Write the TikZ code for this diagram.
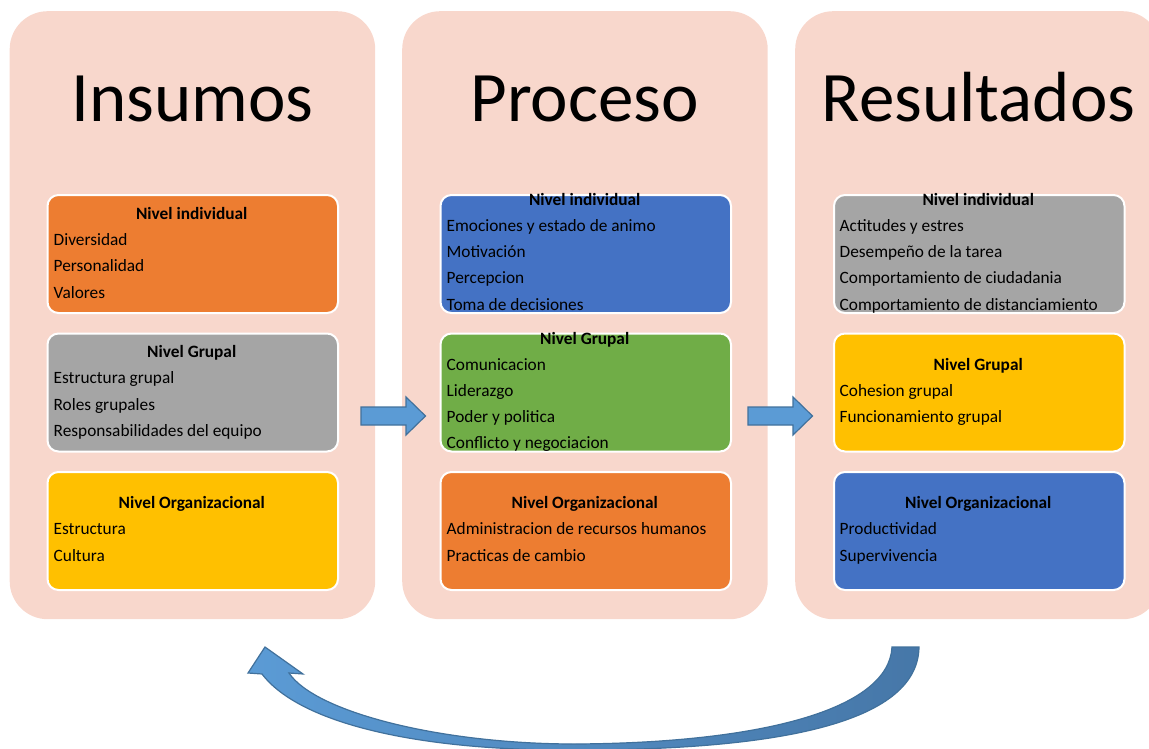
\documentclass[tikz,border=0pt]{standalone}
\usepackage{fontspec}
\setmainfont{Carlito}
\definecolor{rosa}{HTML}{F8D7CC}
\definecolor{naranja}{HTML}{ED7D31}
\definecolor{gris}{HTML}{A5A5A5}
\definecolor{amarillo}{HTML}{FFC000}
\definecolor{azul}{HTML}{4472C4}
\definecolor{verde}{HTML}{70AD47}
\definecolor{azulflecha}{HTML}{5B9BD5}
\definecolor{azulcurva}{HTML}{4677A8}
\definecolor{bordeflecha}{HTML}{41719C}
\tikzset{
	columna/.style={fill=rosa, rounded corners=38pt, minimum width=365.5pt, minimum height=608pt, anchor=north west, inner sep=0pt},
	caja/.style={draw=white, line width=2pt, rounded corners=11pt, minimum width=290.5pt, minimum height=118pt, anchor=north west, inner sep=0pt},
	titulo/.style={font=\fontsize{71}{85}\selectfont, anchor=base, inner sep=0pt},
	encab/.style={font=\fontsize{17.3}{20}\selectfont\bfseries, anchor=base, inner sep=0pt},
	item/.style={font=\fontsize{17.3}{20}\selectfont, anchor=base west, inner sep=0pt},
	flecha/.style={fill=azulflecha, draw=bordeflecha, line width=1.2pt},
	curva/.style={left color=azulflecha, right color=azulcurva, draw=bordeflecha, line width=1.2pt}
}

\begin{document}
\begin{tikzpicture}[x=1pt, y=-1pt]
	\clip (0,0) rectangle (1149,749);

	% columnas
	\node[columna] (col1) at (9.5,11) {};
	\node[columna] (col2) at (402,11) {};
	\node[columna] (col3) at (795,11) {};

	\node[titulo] (tit1) at (192.25,122) {Insumos};
	\node[titulo] (tit2) at (584.75,122) {Proceso};
	\node[titulo] (tit3) at (978.5,122) {Resultados};

	% Insumos
	\node[caja, fill=naranja] (ins1) at (46.5,194) {};
	\node[encab] (ins1h) at (191.75,219) {Nivel individual};
	\foreach \t [count=\i] in {Diversidad, Personalidad, Valores}
		\node[item] (ins1-\i) at (53.5,{219+26.4*\i}) {\t};

	\node[caja, fill=gris] (ins2) at (46.5,332.5) {};
	\node[encab] (ins2h) at (191.75,357) {Nivel Grupal};
	\foreach \t [count=\i] in {Estructura grupal, Roles grupales, Responsabilidades del equipo}
		\node[item] (ins2-\i) at (53.5,{357+26.6*\i}) {\t};

	\node[caja, fill=amarillo] (ins3) at (46.5,471) {};
	\node[encab] (ins3h) at (191.75,508.5) {Nivel Organizacional};
	\foreach \t [count=\i] in {Estructura, Cultura}
		\node[item] (ins3-\i) at (53.5,{508.5+26.4*\i}) {\t};

	% Proceso
	\node[caja, fill=azul] (pro1) at (439.5,194) {};
	\node[encab] (pro1h) at (584.75,205) {Nivel individual};
	\foreach \t [count=\i] in {Emociones y estado de animo, Motivación, Percepcion, Toma de decisiones}
		\node[item] (pro1-\i) at (446.5,{205+26.3*\i}) {\t};

	\node[caja, fill=verde] (pro2) at (439.5,332.5) {};
	\node[encab] (pro2h) at (584.75,344) {Nivel Grupal};
	\foreach \t [count=\i] in {Comunicacion, Liderazgo, Poder y politica, Conflicto y negociacion}
		\node[item] (pro2-\i) at (446.5,{344+26.2*\i}) {\t};

	\node[caja, fill=naranja] (pro3) at (439.5,471) {};
	\node[encab] (pro3h) at (584.75,508.5) {Nivel Organizacional};
	\foreach \t [count=\i] in {Administracion de recursos humanos, Practicas de cambio}
		\node[item] (pro3-\i) at (446.5,{508.5+26.4*\i}) {\t};

	% Resultados
	\node[caja, fill=gris] (res1) at (833,194) {};
	\node[encab] (res1h) at (978.25,205) {Nivel individual};
	\foreach \t [count=\i] in {Actitudes y estres, Desempeño de la tarea, Comportamiento de ciudadania, Comportamiento de distanciamiento}
		\node[item] (res1-\i) at (839.5,{205+26.3*\i}) {\t};

	\node[caja, fill=amarillo] (res2) at (833,332.5) {};
	\node[encab] (res2h) at (978.25,370.5) {Nivel Grupal};
	\foreach \t [count=\i] in {Cohesion grupal, Funcionamiento grupal}
		\node[item] (res2-\i) at (839.5,{370.5+26.2*\i}) {\t};

	\node[caja, fill=azul] (res3) at (833,471) {};
	\node[encab] (res3h) at (978.25,508.5) {Nivel Organizacional};
	\foreach \t [count=\i] in {Productividad, Supervivencia}
		\node[item] (res3-\i) at (839.5,{508.5+26.4*\i}) {\t};

	% flechas
	\foreach \x in {361,748}
		\draw[flecha] (\x,407) -- ++(45,0) -- ++(0,-10) -- ++(19.5,19) -- ++(-19.5,19)
			-- ++(0,-10) -- ++(-45,0) -- cycle;

	\draw[curva] (919,647) .. controls (918,720) and (790,750) .. (575,750)
		.. controls (420,751) and (300,724) .. (262,674)
		-- (248,673) -- (265,647) -- (303,674) -- (289,673)
		.. controls (315,712) and (440,744) .. (575,744)
		.. controls (760,743) and (889,710) .. (892,647) -- cycle;
\end{tikzpicture}
\end{document}
